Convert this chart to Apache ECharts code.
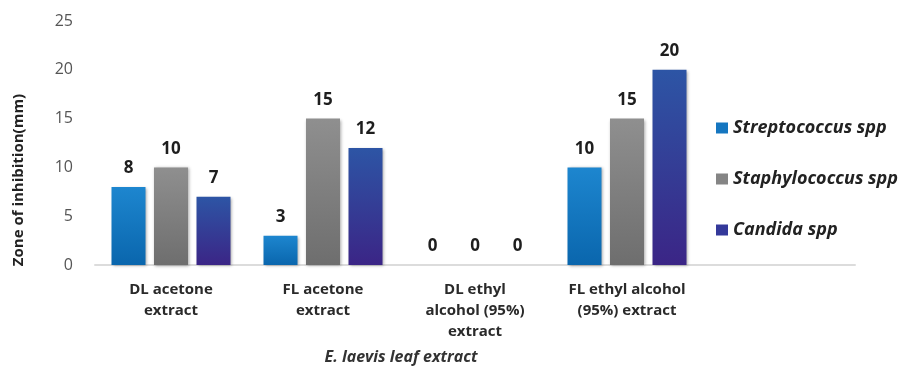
<!DOCTYPE html>
<html><head><meta charset="utf-8">
<script src="https://cdn.jsdelivr.net/npm/echarts@6/dist/echarts.min.js"></script>
<style>html,body{margin:0;padding:0;background:#fff}#c{width:917px;height:367px}</style>
</head><body><div id="c"></div>
<script>
const categories = ['DL acetone\nextract', 'FL acetone\nextract', 'DL ethyl\nalcohol (95%)\nextract', 'FL ethyl alcohol\n(95%) extract', ''];
const seriesNames = ['Streptococcus spp', 'Staphylococcus spp', 'Candida spp'];
const streptococcus = [8, 3, 0, 10, null];
const staphylococcus = [10, 15, 0, 15, null];
const candida = [7, 12, 0, 20, null];
const yTicks = [0, 5, 10, 15, 20, 25];

const FONT = '"Open Sans", "DejaVu Sans", sans-serif';
function grad(top, bottom) {
  return new echarts.graphic.LinearGradient(0, 0, 0, 1, [{offset: 0, color: top}, {offset: 1, color: bottom}]);
}
const colors = [grad('#1d86cf', '#0a66ad'), grad('#8f8f8f', '#6e6e6e'), grad('#2d55a5', '#3b2586')];
const legendColors = ['#1576c0', '#858585', '#34399a'];

function mkSeries(name, data, i) {
  return {
    name: name, type: 'bar', data: data, barWidth: 34, barGap: '25%',
    itemStyle: {color: colors[i], shadowBlur: 3, shadowColor: 'rgba(0,0,0,0.35)', shadowOffsetX: 1, shadowOffsetY: 1},
    label: {show: true, position: 'top', distance: 10, fontFamily: FONT, fontWeight: 'bold', fontSize: 17, color: '#1e1e1e'}
  };
}
const chart = echarts.init(document.getElementById('c'));
chart.setOption({
  animation: false,
  backgroundColor: '#ffffff',
  color: legendColors,
  grid: {left: 95, right: 62, top: 21, bottom: 102, containLabel: false, outerBoundsMode: 'none'},
  legend: {
    orient: 'vertical', left: 711, top: 114, itemGap: 33, itemWidth: 12, itemHeight: 11,
    icon: 'rect',
    data: seriesNames.map((n, i) => ({name: n, itemStyle: {color: legendColors[i]}})),
    textStyle: {fontFamily: FONT, fontWeight: 'bold', fontStyle: 'italic', fontSize: 18, color: '#222'}
  },
  xAxis: {
    type: 'category', data: categories,
    axisLine: {lineStyle: {color: '#dcdcdc', width: 2}},
    axisTick: {show: false},
    axisLabel: {interval: 0, margin: 14, fontFamily: FONT, fontWeight: 'bold', fontSize: 15, color: '#2a2a2a', lineHeight: 21},
    name: 'E. laevis leaf extract', nameLocation: 'middle', nameGap: 84,
    nameTextStyle: {fontFamily: FONT, fontWeight: 'bold', fontStyle: 'italic', fontSize: 16, color: '#333', padding: [0, 148, 0, 0]}
  },
  yAxis: {
    type: 'value', min: 0, max: 25, interval: 5,
    axisLine: {show: false}, axisTick: {show: false}, splitLine: {show: false},
    axisLabel: {margin: 22, fontFamily: FONT, fontSize: 16, color: '#555', formatter: v => yTicks.includes(v) ? String(v) : ''},
    name: 'Zone of inhibition(mm)', nameLocation: 'middle', nameGap: 69, nameRotate: 90,
    nameTextStyle: {fontFamily: FONT, fontWeight: 'bold', fontSize: 15, color: '#222', padding: [0, 74, 0, 0]}
  },
  series: [mkSeries(seriesNames[0], streptococcus, 0), mkSeries(seriesNames[1], staphylococcus, 1), mkSeries(seriesNames[2], candida, 2)]
});
</script></body></html>
